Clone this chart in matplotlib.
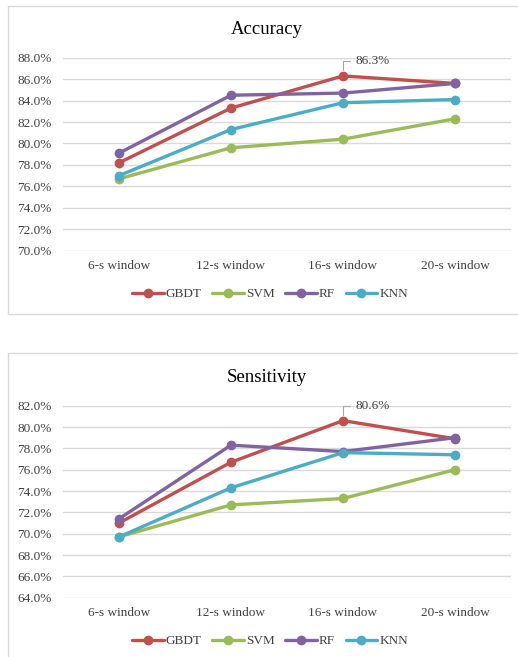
import matplotlib
matplotlib.use("Agg")
import matplotlib.pyplot as plt
from matplotlib.patches import Rectangle
from matplotlib.ticker import FuncFormatter

plt.rcParams['font.family'] = ['Liberation Serif', 'DejaVu Serif']

windows = ['6-s window', '12-s window', '16-s window', '20-s window']
models = ['GBDT', 'SVM', 'RF', 'KNN']
colors = ['#C0504D', '#9BBB59', '#8064A2', '#4BACC6']

accuracy = {
    'GBDT': [78.2, 83.3, 86.3, 85.6],
    'SVM': [76.7, 79.6, 80.4, 82.3],
    'RF': [79.1, 84.5, 84.7, 85.6],
    'KNN': [77.0, 81.3, 83.8, 84.1],
}
sensitivity = {
    'GBDT': [71.0, 76.7, 80.6, 78.9],
    'SVM': [69.7, 72.7, 73.3, 76.0],
    'RF': [71.4, 78.3, 77.7, 79.0],
    'KNN': [69.7, 74.3, 77.6, 77.4],
}
acc_ticks = [70, 72, 74, 76, 78, 80, 82, 84, 86, 88]
sens_ticks = [64, 66, 68, 70, 72, 74, 76, 78, 80, 82]

W, H = 518, 657
fig = plt.figure(figsize=(W / 100, H / 100), dpi=100)


def px_axes(left, top, right, bottom):
    return fig.add_axes([left / W, 1 - bottom / H, (right - left) / W, (bottom - top) / H])


def draw_chart(ax, data, ticks, title, title_y, legend_y, box):
    x = range(len(windows))
    lines = []
    for m, c in zip(models, colors):
        ln, = ax.plot(x, data[m], color=c, lw=2.4, marker='o', ms=6,
                      solid_capstyle='round', label=m, zorder=3)
        lines.append(ln)
    ax.set_xlim(-0.5, len(windows) - 0.5)
    ax.set_ylim(ticks[0], ticks[-1])
    ax.set_yticks(ticks)
    ax.yaxis.set_major_formatter(FuncFormatter(lambda v, p: f'{v:.1f}%'))
    ax.set_xticks(list(x))
    ax.set_xticklabels(windows)
    ax.grid(axis='y', color='#D9D9D9', lw=1)
    ax.set_axisbelow(True)
    for s in ax.spines.values():
        s.set_visible(False)
    ax.tick_params(length=0, labelsize=9.5, labelcolor='#404040')
    ax.tick_params(axis='y', pad=8)
    ax.tick_params(axis='x', pad=7)

    # label the GBDT peak
    i = max(range(len(windows)), key=lambda k: data['GBDT'][k])
    v = data['GBDT'][i]
    ax.annotate(f'{v:.1f}%', xy=(i, v), xytext=(13, 15), textcoords='offset pixels',
                ha='left', va='center', fontsize=9.5, color='#404040',
                arrowprops=dict(arrowstyle='-', color='#A6A6A6', lw=0.8,
                                shrinkA=2, shrinkB=4,
                                connectionstyle='angle,angleA=0,angleB=90,rad=0'))

    fig.text(267 / W, 1 - title_y / H, title, ha='center', va='center',
             fontsize=13.5, color='#000000')
    fig.legend(lines, models, loc='center', bbox_to_anchor=(270 / W, 1 - legend_y / H),
               ncol=4, frameon=False, fontsize=9.5, handlelength=2.4,
               handletextpad=0.15, columnspacing=0.8, labelcolor='#404040')
    l, t, r, b = box
    fig.patches.append(Rectangle((l / W, 1 - b / H), (r - l) / W, (b - t) / H,
                                 transform=fig.transFigure, fill=False,
                                 edgecolor='#D9D9D9', lw=1))


ax1 = px_axes(63, 57.7, 511, 250.7)
draw_chart(ax1, accuracy, acc_ticks, 'Accuracy', 30, 294, (8, 6, 530, 314))

ax2 = px_axes(63, 405.7, 511, 597.7)
draw_chart(ax2, sensitivity, sens_ticks, 'Sensitivity', 377, 641, (8, 353, 530, 670))

fig.savefig('out.png', dpi=100, facecolor='white')
